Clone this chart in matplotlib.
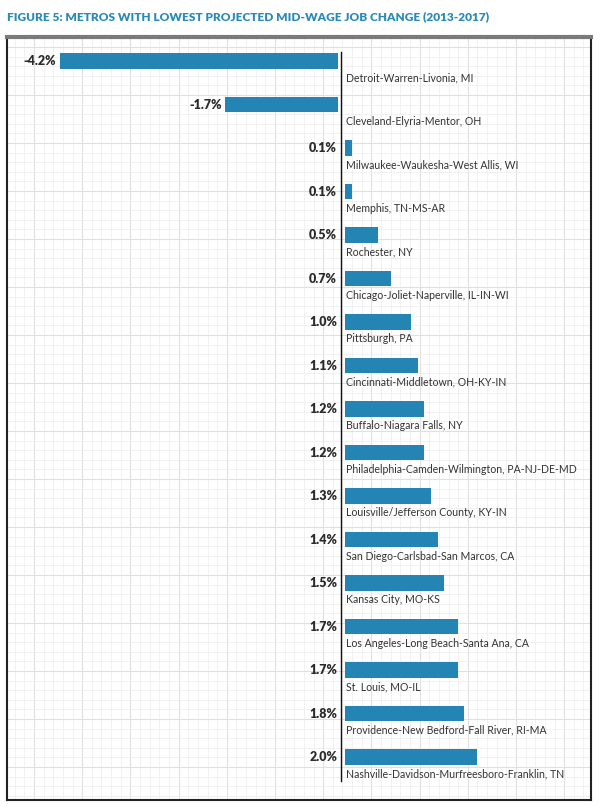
import numpy as np
import matplotlib
matplotlib.use("Agg")
import matplotlib.pyplot as plt

plt.rcParams["font.family"] = ["Lato", "DejaVu Sans"]

TITLE = "FIGURE 5: METROS WITH LOWEST PROJECTED MID-WAGE JOB CHANGE (2013-2017)"
METROS = [
    "Detroit-Warren-Livonia, MI",
    "Cleveland-Elyria-Mentor, OH",
    "Milwaukee-Waukesha-West Allis, WI",
    "Memphis, TN-MS-AR",
    "Rochester, NY",
    "Chicago-Joliet-Naperville, IL-IN-WI",
    "Pittsburgh, PA",
    "Cincinnati-Middletown, OH-KY-IN",
    "Buffalo-Niagara Falls, NY",
    "Philadelphia-Camden-Wilmington, PA-NJ-DE-MD",
    "Louisville/Jefferson County, KY-IN",
    "San Diego-Carlsbad-San Marcos, CA",
    "Kansas City, MO-KS",
    "Los Angeles-Long Beach-Santa Ana, CA",
    "St. Louis, MO-IL",
    "Providence-New Bedford-Fall River, RI-MA",
    "Nashville-Davidson-Murfreesboro-Franklin, TN",
]
CHANGE = [-4.2, -1.7, 0.1, 0.1, 0.5, 0.7, 1.0, 1.1, 1.2, 1.2, 1.3, 1.4, 1.5, 1.7, 1.7, 1.8, 2.0]

TEAL = "#2484b4"
TITLE_C = "#2a8ab8"
TEXT = "#2b2b2b"

W, H = 602, 807
FX0, FX1, FY0, FY1 = 7, 591, 37, 800      # frame in pixels (y from top)
ZERO_X, PX_PER = 341, 66.2
ROW0, ROW_PX = 61, 43.5

fig = plt.figure(figsize=(W / 100, H / 100), dpi=100)
rect = [FX0 / W, (H - FY1) / H, (FX1 - FX0) / W, (FY1 - FY0) / H]

# background grid (pixel units)
bg = fig.add_axes(rect)
bg.set_xlim(FX0, FX1); bg.set_ylim(FY1, FY0)
for x in np.arange(34 - 9.64 * 3, FX1, 9.64):
    major = abs(((x - 34) / 48.2) - round((x - 34) / 48.2)) < 0.02
    bg.axvline(x, color="#e0e0e0" if major else "#efefef", lw=0.8 if major else 0.6, zorder=0)
for y in np.arange(47 - 9.6, FY1, 9.6):
    major = abs(((y - 47) / 48.0) - round((y - 47) / 48.0)) < 0.02
    bg.axhline(y, color="#e0e0e0" if major else "#efefef", lw=0.8 if major else 0.6, zorder=0)
bg.set_xticks([]); bg.set_yticks([])
for s in ["left", "right", "bottom"]:
    bg.spines[s].set_color("#222222"); bg.spines[s].set_linewidth(1.5)
bg.spines["top"].set_color("#7a7a7a"); bg.spines["top"].set_linewidth(3)

# data axes
ax = fig.add_axes(rect)
ax.patch.set_alpha(0)
ax.set_xlim((FX0 - ZERO_X) / PX_PER, (FX1 - ZERO_X) / PX_PER)
ax.set_ylim((FY1 - ROW0) / ROW_PX, (FY0 - ROW0) / ROW_PX)
ax.set_axis_off()

ypos = np.arange(len(METROS))
vals = np.array(CHANGE)
gap = np.where(vals < 0, -0.045, 0.06)
ax.barh(ypos, vals, left=gap, height=0.345, color=TEAL, zorder=3)
ax.plot([0, 0], [-0.21, 16.55], color="#111111", lw=1.0, zorder=4)

for y, v, g, name in zip(ypos, vals, gap, METROS):
    xl = (g + v - 0.06) if v < 0 else -0.06
    ax.text(xl, y, f"{v:.1f}%", ha="right", va="center", fontsize=9,
            fontweight="heavy", color=TEXT, zorder=5)
    ax.text(0.07, y + 0.38, name, ha="left", va="center", fontsize=7.6,
            color="#333333", zorder=5)

fig.text(FX0 / W, 1 - 17 / H, TITLE, ha="left", va="center", fontsize=8.6,
         fontweight="heavy", color=TITLE_C)

fig.savefig("out.png", dpi=100, facecolor="white")
